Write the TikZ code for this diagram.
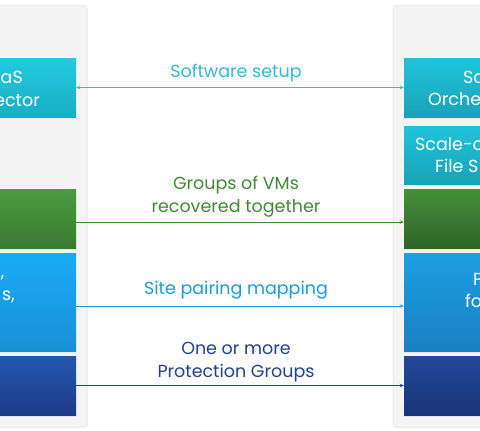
\documentclass[tikz,border=0pt]{standalone}
\usepackage{fontspec}
\setmainfont{Poppins}
\usetikzlibrary{arrows.meta,shadows}
\definecolor{panelgray}{HTML}{F4F4F4}
\definecolor{cyantop}{HTML}{22CBDF}
\definecolor{cyanbot}{HTML}{1AADC4}
\definecolor{rcyantop}{HTML}{20C4DA}
\definecolor{rcyanbot}{HTML}{1AA2B8}
\definecolor{greentop}{HTML}{4B9B3F}
\definecolor{greenbot}{HTML}{3B7A31}
\definecolor{rgreentop}{HTML}{468F3B}
\definecolor{rgreenbot}{HTML}{2D6527}
\definecolor{bluetop}{HTML}{1AABF6}
\definecolor{bluebot}{HTML}{1990D6}
\definecolor{rbluetop}{HTML}{1B9FE2}
\definecolor{rbluebot}{HTML}{1A80C2}
\definecolor{navytop}{HTML}{2557AE}
\definecolor{navybot}{HTML}{1C3C88}
\definecolor{rnavytop}{HTML}{22489A}
\definecolor{rnavybot}{HTML}{1A3478}
\definecolor{labcyan}{HTML}{2FBBD5}
\definecolor{labgreen}{HTML}{3F8A36}
\definecolor{labblue}{HTML}{1C9BE0}
\definecolor{labnavy}{HTML}{23418F}

\begin{document}
\begin{tikzpicture}[x=1pt,y=-1pt,
	panel/.style={fill=panelgray,draw=black!9,line width=0.6pt,rounded corners=3pt,
		drop shadow={opacity=0.12,shadow xshift=0.8pt,shadow yshift=-1.2pt}},
	box/.style={rectangle,minimum width=166pt,inner sep=0pt,
		drop shadow={opacity=0.12,shadow xshift=0.4pt,shadow yshift=-1.5pt}},
	boxtext/.style={text=white,inner sep=0pt,font=\fontsize{17.5}{21}\selectfont},
	flow/.style={draw=#1,line width=0.8pt,-{Stealth[length=4pt,width=3.5pt]}},
	flowlabel/.style={text=#1,inner sep=0pt,align=center,xshift=-4pt,
		font=\fontsize{17.5}{22.5}\selectfont}]
		
		\clip (0,0) rectangle (480,431);
		
		%%%%% PANELS %%%%%
		\draw[panel] (-100,5) rectangle (87,427);
		\draw[panel] (393,5) rectangle (580,427);
		
		%%%%% LEFT SIDE %%%%%
		\node[box,minimum height=59pt,top color=cyantop,bottom color=cyanbot] (lcyan) at (-7,87.5) {};
		\node[box,minimum height=59pt,top color=greentop,bottom color=greenbot] (lgreen) at (-7,218.5) {};
		\node[box,minimum height=98pt,top color=bluetop,bottom color=bluebot] (lblue) at (-7,302) {};
		\node[box,minimum height=59pt,top color=navytop,bottom color=navybot] (lnavy) at (-7,385.5) {};
		
		\node[boxtext,anchor=base east] at (23,83) {aaS};
		\node[boxtext,anchor=base east] at (40,106) {ector};
		\node[boxtext,anchor=base east] at (4.5,277) {,};
		\node[boxtext,anchor=base east] at (15,300) {s,};
		
		%%%%% RIGHT SIDE %%%%%
		\node[box,minimum height=59pt,top color=rcyantop,bottom color=rcyanbot] (rcyan) at (487,87.5) {};
		\node[box,minimum height=58pt,top color=rcyantop,bottom color=rcyanbot] (rfiles) at (487,155) {};
		\node[box,minimum height=59pt,top color=rgreentop,bottom color=rgreenbot] (rgreen) at (487,218.5) {};
		\node[box,minimum height=98pt,top color=rbluetop,bottom color=rbluebot] (rblue) at (487,302) {};
		\node[box,minimum height=59pt,top color=rnavytop,bottom color=rnavybot] (rnavy) at (487,385.5) {};
		
		\node[boxtext,anchor=base west] at (463,83) {Sa};
		\node[boxtext,anchor=base west] at (428,105) {Orche};
		\node[boxtext,anchor=base west] at (415,150) {Scale-o};
		\node[boxtext,anchor=base west] at (435,172) {File S};
		\node[boxtext,anchor=base west] at (473,285) {P};
		\node[boxtext,anchor=base west] at (465,307) {fo};
		
		%%%%% CONNECTORS %%%%%
		\draw[flow=labcyan,{Stealth[length=4pt,width=3.5pt]}-{Stealth[length=4pt,width=3.5pt]}] (lcyan) -- node[flowlabel=labcyan,above=5.5pt] {Software setup} (rcyan);
		\draw[flow=labgreen] ([yshift=-3.5pt]lgreen.east) -- node[flowlabel=labgreen,above=4.5pt] {Groups of VMs\\recovered together} ([yshift=-3.5pt]rgreen.west);
		\draw[flow=labblue] ([yshift=-4pt]lblue.east) -- node[flowlabel=labblue,above=6.5pt] {Site pairing mapping} ([yshift=-4pt]rblue.west);
		\draw[flow=labnavy] (lnavy) -- node[flowlabel=labnavy,above=3.5pt] {One or more\\Protection Groups} (rnavy);
		
	\end{tikzpicture}
\end{document}
